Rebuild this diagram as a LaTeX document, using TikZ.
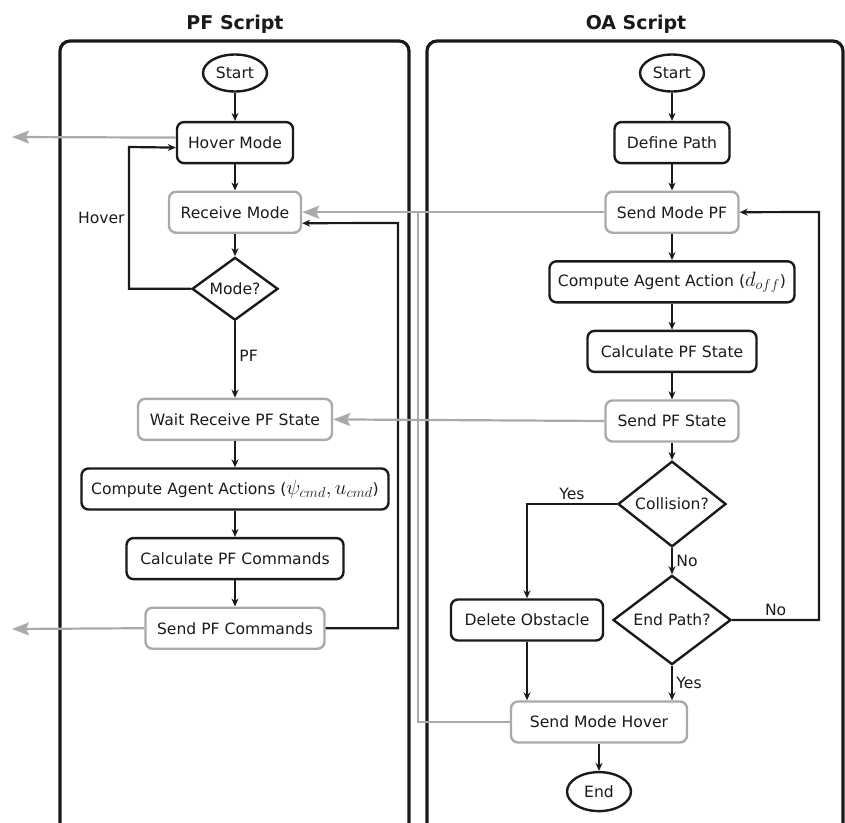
\documentclass[tikz,border=0pt]{standalone}
\usepackage{fontspec}
\setmainfont{DejaVu Sans}
\usetikzlibrary{shapes.geometric,arrows.meta,positioning}
\definecolor{msggray}{RGB}{170,170,170}
\definecolor{flowblack}{RGB}{26,26,26}
\newcommand{\bigmath}[1]{{\fontsize{19.5}{20}\selectfont$#1$}}

\begin{document}
\begin{tikzpicture}[x=1pt,y=-1pt,node distance=69.6pt,
    every node/.style={font=\fontsize{15.6}{18}\selectfont, text=flowblack},
    flow/.style={-{Stealth[length=8pt,width=7pt]}, line width=2.2pt, color=flowblack},
    msg/.style={-{Stealth[length=17pt,width=13pt,inset=3pt]}, line width=2.2pt, color=msggray},
    lane/.style={draw=flowblack, line width=3.2pt, rounded corners=10pt},
    title/.style={font=\fontsize{19}{22}\selectfont\bfseries},
    term/.style={ellipse, draw=flowblack, line width=2.4pt, minimum width=64pt, minimum height=37pt, inner sep=0pt},
    proc/.style={rectangle, rounded corners=7pt, draw=flowblack, line width=2.4pt, minimum height=41pt, inner xsep=4pt},
    comm/.style={proc, draw=msggray},
    decision/.style={diamond, draw=flowblack, line width=2.4pt, inner sep=0pt}]

    \useasboundingbox (0,0) rectangle (845,822);
    \begin{scope}
        \clip (0,0) rectangle (845,822);
        \draw[lane] (60,41) rectangle (409,845);
        \draw[lane] (427,41) rectangle (843,845);
    \end{scope}
    \node [title, anchor=base] (pftitle) at (235,29) {PF Script};
    \node [title, anchor=base] (oatitle) at (636,29) {OA Script};

    % PF script
    \node [term] (pfstart) at (235,73) {Start};
    \node [proc, minimum width=116pt] (hover) [below of=pfstart] {Hover Mode};
    \node [comm, minimum width=132pt] (receive) [below of=hover] {Receive Mode};
    \node [decision, minimum width=86pt, minimum height=54pt] (mode) [below of=receive, yshift=-7pt] {Mode?};
    \node [comm, minimum width=194pt] (wait) [below of=mode, yshift=-61pt] {Wait Receive PF State};
    \node [proc, minimum width=307pt] (pfaction) [below of=wait] {Compute Agent Actions (\bigmath{\psi_{cmd}, u_{cmd}})};
    \node [proc, minimum width=217pt] (pfcalc) [below of=pfaction] {Calculate PF Commands};
    \node [comm, minimum width=179pt] (sendcmd) [below of=pfcalc] {Send PF Commands};

    % OA script
    \node [term] (oastart) at (672,73) {Start};
    \node [proc, minimum width=115pt] (definepath) [below of=oastart] {Define Path};
    \node [comm, minimum width=133pt] (sendpf) [below of=definepath] {Send Mode PF};
    \node [proc, minimum width=245pt] (oaaction) [below of=sendpf] {Compute Agent Action (\bigmath{d_{off}})};
    \node [proc, minimum width=169pt] (oacalc) [below of=oaaction] {Calculate PF State};
    \node [comm, minimum width=133pt] (sendstate) [below of=oacalc] {Send PF State};
    \node [decision, minimum width=108pt, minimum height=69pt] (collision) [below of=sendstate, yshift=-13.4pt] {Collision?};
    \node [decision, minimum width=118pt, minimum height=75pt] (endpath) [below of=collision, yshift=-46.4pt] {End Path?};
    \node [proc, minimum width=152pt] (delete) [left of=endpath, xshift=-75.4pt] {Delete Obstacle};
    \node [comm, minimum width=176pt] (sendhover) [below of=endpath, xshift=-73pt, yshift=-32.4pt] {Send Mode Hover};
    \node [term, minimum height=39pt] (oaend) [below of=sendhover] {End};

    \coordinate (hoverout) at (12,137);
    \coordinate (cmdout) at (12,629);
    \coordinate (hoverloop) at (129,147);
    \coordinate (pfloop) at (398,223);
    \coordinate (hoverjoin) at (418,212);
    \coordinate (oaloop) at (819,212);

    \path[flow]
        (pfstart) edge (hover)
        (hover) edge (receive)
        (receive) edge (mode)
        (mode) edge node[right, pos=0.45] {PF} (wait)
        (wait) edge (pfaction)
        (pfaction) edge (pfcalc)
        (pfcalc) edge (sendcmd)

        (oastart) edge (definepath)
        (definepath) edge (sendpf)
        (sendpf) edge (oaaction)
        (oaaction) edge (oacalc)
        (oacalc) edge (sendstate)
        (sendstate) edge (collision)
        (collision) edge node[right] {No} (endpath)
        (endpath.south) edge node[right] {Yes} (endpath.south |- sendhover.north)
        (delete.south) edge (delete.south |- sendhover.north)
        (sendhover) edge (oaend)
        ;
    \draw[flow] (mode.west) -| (hoverloop) node[left, pos=0.75] {Hover} -- ([yshift=-5pt]hover.west);
    \draw[flow] (sendcmd.east) -| (pfloop) -- ([yshift=-11pt]receive.east);
    \draw[flow] (collision.west) -| node[above, pos=0.25] {Yes} (delete.north);
    \draw[flow] (endpath.east) -| node[above, pos=0.25] {No} (oaloop) -- (sendpf.east);

    \path[msg]
        ([yshift=5pt]hover.west) edge (hoverout)
        (sendcmd.west) edge (cmdout)
        (sendpf.west) edge (receive.east)
        (sendstate.west) edge (wait.east)
        ;
    \draw[msg, -] (sendhover.west) -| (hoverjoin);
\end{tikzpicture}
\end{document}
